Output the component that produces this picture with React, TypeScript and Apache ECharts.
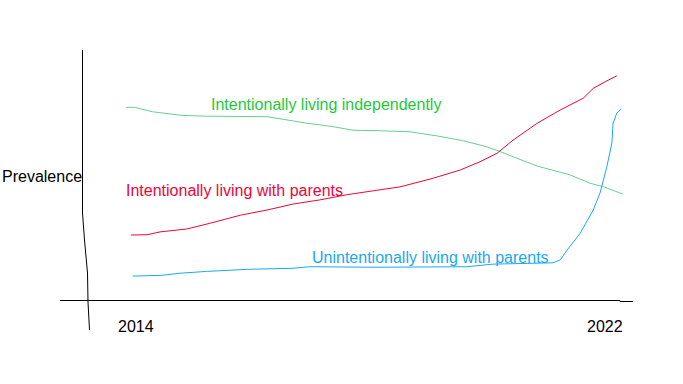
import React, { useEffect, useRef } from "react";
import * as echarts from "echarts";

// Years (x) and prevalence (y, 0-100 arbitrary scale)
const greenYears = [2014.0, 2014.14, 2014.43, 2014.9, 2015.3, 2016.27, 2016.48, 2016.91, 2017.33, 2017.65, 2018.09, 2018.57, 2019.01, 2019.42, 2019.75, 2019.99, 2020.23, 2020.62, 2021.15, 2021.47, 2021.68, 2022.0];
const greenValues = [74.1, 74.1, 72.4, 71.0, 70.7, 70.5, 69.7, 68.0, 66.7, 65.3, 65.1, 64.7, 63.1, 61.3, 59.3, 57.4, 55.1, 51.5, 48.1, 44.9, 43.6, 40.7];

const redYears = [2014.08, 2014.34, 2014.55, 2014.98, 2015.35, 2015.84, 2016.27, 2016.69, 2017.12, 2017.56, 2017.98, 2018.41, 2018.94, 2019.38, 2019.7, 2019.97, 2020.23, 2020.62, 2020.99, 2021.36, 2021.52, 2021.74, 2021.9];
const redValues = [25.0, 25.1, 26.2, 27.3, 29.5, 32.6, 34.6, 36.9, 38.5, 40.5, 42.0, 43.5, 46.8, 50.0, 53.2, 56.4, 61.5, 68.0, 73.1, 77.6, 81.4, 84.3, 86.2];

const blueYears = [2014.11, 2014.58, 2014.87, 2015.3, 2015.96, 2016.69, 2016.96, 2018.04, 2019.49, 2019.91, 2020.87, 2020.99, 2021.1, 2021.31, 2021.52, 2021.63, 2021.74, 2021.82, 2021.84, 2021.9, 2021.97];
const blueValues = [9.2, 9.5, 10.3, 11.0, 11.8, 12.2, 12.8, 12.6, 12.8, 13.8, 14.3, 15.4, 19.2, 25.7, 34.6, 41.2, 51.3, 60.4, 68.1, 71.9, 73.5];

const seriesNames = [
  "Intentionally living independently",
  "Intentionally living with parents",
  "Unintentionally living with parents",
];
const tickLabels = ["2014", "2022"];
const yAxisName = "Prevalence";

const zip = (xs: number[], ys: number[]) => xs.map((x, i) => [x, ys[i]]);

export default function App() {
  const ref = useRef<HTMLDivElement>(null);
  useEffect(() => {
    if (!ref.current) return;
    const chart = echarts.init(ref.current, null, { renderer: "svg" });
    const font = "Liberation Sans, Arial, sans-serif";
    chart.setOption({
      animation: false,
      backgroundColor: "#ffffff",
      grid: { left: 60, right: 50, top: 40, bottom: 84 },
      xAxis: { type: "value", min: 2012.94, max: 2022.16, show: false },
      yAxis: { type: "value", min: 0, max: 100, show: false },
      series: [
        {
          type: "line",
          name: seriesNames[0],
          data: zip(greenYears, greenValues),
          showSymbol: false,
          lineStyle: { color: "#66d08a", width: 1 },
        },
        {
          type: "line",
          name: seriesNames[1],
          data: zip(redYears, redValues),
          showSymbol: false,
          lineStyle: { color: "#ee0538", width: 1 },
        },
        {
          type: "line",
          name: seriesNames[2],
          data: zip(blueYears, blueValues),
          showSymbol: false,
          lineStyle: { color: "#1aa9ee", width: 1 },
        },
      ],
      graphic: [
        {
          type: "polyline",
          shape: { points: [[82.5, 50], [82.5, 213], [84.5, 240], [87.5, 273], [88, 302], [89.5, 330]] },
          style: { stroke: "#000", lineWidth: 1, fill: null },
        },
        {
          type: "polyline",
          shape: { points: [[60, 300.5], [620, 300.5], [620, 301.5], [633, 301.5]] },
          style: { stroke: "#000", lineWidth: 1, fill: null },
        },
        {
          type: "text", x: 211, y: 104,
          style: { text: seriesNames[0], fill: "#1ec93a", font: `16px ${font}`, textVerticalAlign: "middle" },
        },
        {
          type: "text", x: 126, y: 190,
          style: { text: seriesNames[1], fill: "#ee0538", font: `16px ${font}`, textVerticalAlign: "middle" },
        },
        {
          type: "text", x: 312, y: 257,
          style: { text: seriesNames[2], fill: "#1aa9ee", font: `16px ${font}`, textVerticalAlign: "middle" },
        },
        {
          type: "text", x: 2, y: 176,
          style: { text: yAxisName, fill: "#000", font: `16px ${font}`, textVerticalAlign: "middle" },
        },
        {
          type: "text", x: 118, y: 326,
          style: { text: tickLabels[0], fill: "#000", font: `16px ${font}`, textVerticalAlign: "middle" },
        },
        {
          type: "text", x: 587, y: 326,
          style: { text: tickLabels[1], fill: "#000", font: `16px ${font}`, textVerticalAlign: "middle" },
        },
      ],
    });
    return () => chart.dispose();
  }, []);
  return <div ref={ref} style={{ width: 683, height: 384, position: "absolute", left: 0, top: 0 }} />;
}
